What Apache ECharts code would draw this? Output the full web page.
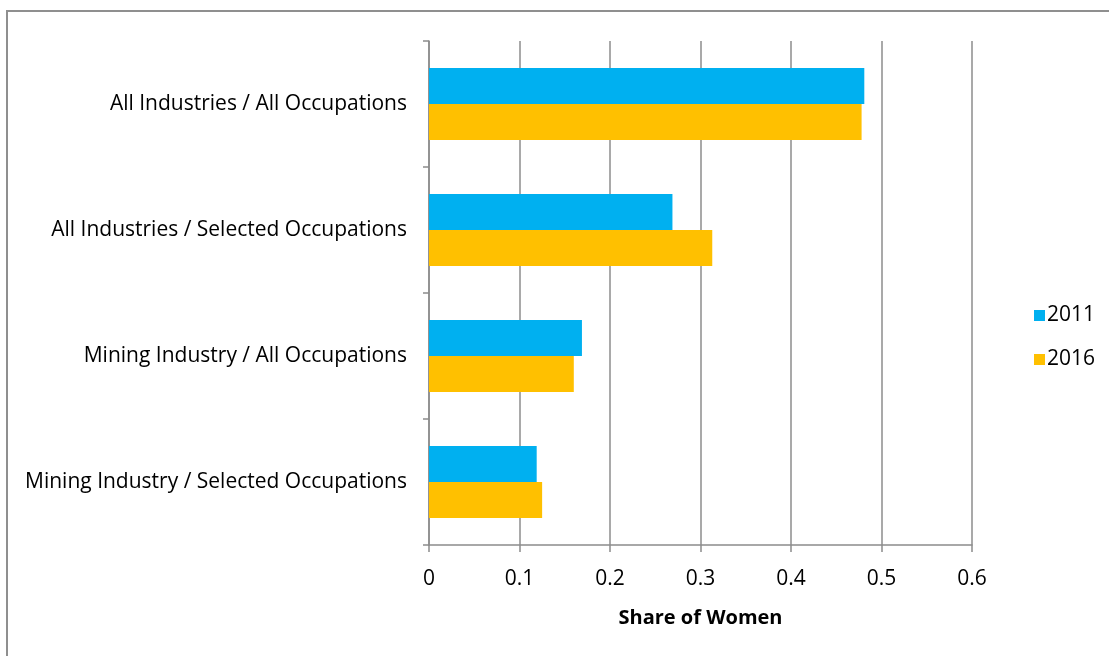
<!DOCTYPE html>
<html>
<head>
<meta charset="utf-8">
<style>
  html, body { margin: 0; padding: 0; background: #fff; }
  #chart { width: 1109px; height: 656px; }
</style>
<script src="https://cdn.jsdelivr.net/npm/echarts@6/dist/echarts.min.js"></script>
</head>
<body>
<div id="chart"></div>
<script>
// Categories listed top to bottom
const categories = [
  'All Industries / All Occupations',
  'All Industries / Selected Occupations',
  'Mining Industry / All Occupations',
  'Mining Industry / Selected Occupations'
];
const share2011 = [0.481, 0.269, 0.169, 0.119];
const share2016 = [0.478, 0.313, 0.160, 0.125];
const xTicks = [0, 0.1, 0.2, 0.3, 0.4, 0.5, 0.6];

const FONT = '"Open Sans", Lato, sans-serif';
const GRID_COLOR = '#8c8c8c';

const chart = echarts.init(document.getElementById('chart'), null, { renderer: 'canvas' });
chart.setOption({
  animation: false,
  backgroundColor: '#fff',
  graphic: [{
    type: 'rect',
    shape: { x: 7, y: 11, width: 1120, height: 700 },
    style: { fill: 'none', stroke: '#8f8f8f', lineWidth: 2 },
    silent: true
  }],
  grid: { left: 429, right: 137, top: 41, bottom: 111, containLabel: false },
  legend: {
    orient: 'vertical',
    left: 1029,
    top: 300,
    itemWidth: 11,
    itemHeight: 11,
    itemGap: 23,
    icon: 'rect',
    textStyle: { fontFamily: FONT, fontSize: 21, color: '#000', padding: [0, 0, 0, -3] },
    data: ['2011', '2016']
  },
  xAxis: {
    type: 'value',
    min: 0,
    max: 0.6,
    interval: 0.1,
    name: 'Share of Women',
    nameLocation: 'middle',
    nameGap: 63,
    nameTextStyle: { fontFamily: FONT, fontSize: 20, fontWeight: 'bold', color: '#000' },
    axisLine: { show: true, lineStyle: { color: GRID_COLOR, width: 1.5 } },
    axisTick: { show: true, length: 7, lineStyle: { color: GRID_COLOR, width: 1.5 } },
    axisLabel: {
      fontFamily: FONT, fontSize: 21, color: '#000', margin: 24,
      formatter: v => {
        const hit = xTicks.find(t => Math.abs(t - v) < 1e-9);
        return hit === undefined ? '' : String(hit);
      }
    },
    splitLine: { show: true, lineStyle: { color: GRID_COLOR, width: 1.5 } }
  },
  yAxis: {
    type: 'category',
    inverse: true,
    data: categories,
    axisLine: { show: true, lineStyle: { color: GRID_COLOR, width: 1.5 } },
    axisTick: { show: true, length: 6, inside: false, lineStyle: { color: GRID_COLOR, width: 1.5 } },
    axisLabel: { fontFamily: FONT, fontSize: 21, color: '#000', margin: 22 },
    splitLine: { show: false }
  },
  series: [
    {
      name: '2011',
      type: 'bar',
      data: share2011,
      barGap: '0%',
      barCategoryGap: '43%',
      itemStyle: { color: '#00b0f0' }
    },
    {
      name: '2016',
      type: 'bar',
      data: share2016,
      barGap: '0%',
      barCategoryGap: '43%',
      itemStyle: { color: '#ffc000' }
    }
  ]
});
</script>
</body>
</html>
